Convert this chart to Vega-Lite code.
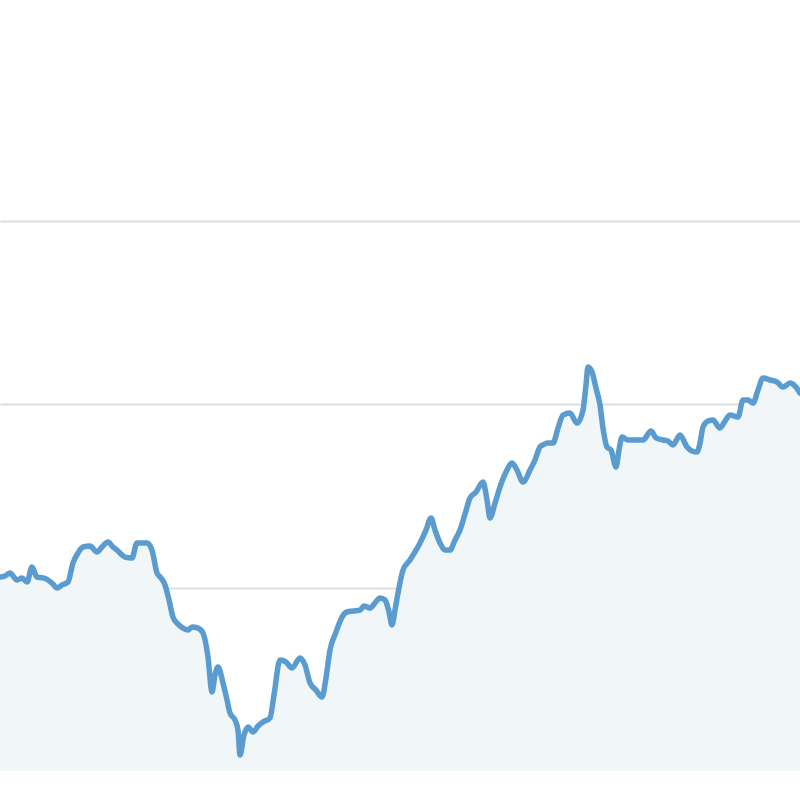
{
  "$schema": "https://vega.github.io/schema/vega-lite/v6.json",
  "width": 800,
  "height": 771,
  "autosize": {"type": "none"},
  "padding": {"top": 0, "left": 0, "right": 0, "bottom": 29},
  "background": "white",
  "config": {"view": {"stroke": null}},
  "data": {"values": [
    {"t":0,"v":105.7},{"t":5,"v":106.3},{"t":10,"v":107.9},{"t":17,"v":104.1},{"t":22,"v":105.2},{"t":27,"v":103.0},{"t":32,"v":111.2},{"t":37,"v":105.7},{"t":43,"v":105.2},{"t":48,"v":104.1},{"t":53,"v":101.9},{"t":57,"v":99.7},{"t":62,"v":101.4},{"t":68,"v":103.0},{"t":73,"v":113.4},{"t":78,"v":118.8},{"t":83,"v":122.1},{"t":90,"v":122.6},{"t":97,"v":119.4},{"t":102,"v":122.1},{"t":108,"v":124.8},{"t":113,"v":122.1},{"t":117,"v":120.4},{"t":125,"v":116.6},{"t":132,"v":116.1},{"t":137,"v":124.3},{"t":147,"v":124.3},{"t":152,"v":120.4},{"t":157,"v":107.9},{"t":161,"v":105.2},{"t":165,"v":101.4},{"t":169,"v":93.2},{"t":173,"v":83.9},{"t":178,"v":80.1},{"t":183,"v":77.9},{"t":188,"v":76.8},{"t":192,"v":78.5},{"t":198,"v":77.9},{"t":203,"v":75.2},{"t":208,"v":62.1},{"t":212,"v":43.1},{"t":215,"v":52.3},{"t":218,"v":56.7},{"t":223,"v":48.0},{"t":227,"v":38.7},{"t":230,"v":31.6},{"t":235,"v":27.8},{"t":238,"v":22.3},{"t":240,"v":8.7},{"t":244,"v":19.6},{"t":248,"v":24.0},{"t":253,"v":21.3},{"t":258,"v":24.5},{"t":263,"v":26.7},{"t":270,"v":28.9},{"t":274,"v":41.4},{"t":280,"v":60.5},{"t":286,"v":59.4},{"t":292,"v":56.1},{"t":300,"v":61.6},{"t":305,"v":57.8},{"t":310,"v":48.0},{"t":316,"v":44.1},{"t":322,"v":40.3},{"t":326,"v":50.7},{"t":330,"v":65.9},{"t":336,"v":75.7},{"t":342,"v":83.9},{"t":347,"v":86.7},{"t":353,"v":87.2},{"t":360,"v":87.7},{"t":364,"v":89.9},{"t":367,"v":89.4},{"t":370,"v":88.8},{"t":375,"v":91.6},{"t":380,"v":94.3},{"t":385,"v":93.2},{"t":389,"v":86.7},{"t":392,"v":79.6},{"t":395,"v":87.7},{"t":398,"v":97.0},{"t":403,"v":109.5},{"t":410,"v":115.0},{"t":415,"v":119.4},{"t":420,"v":124.3},{"t":426,"v":131.3},{"t":431,"v":137.9},{"t":435,"v":131.3},{"t":440,"v":124.3},{"t":445,"v":120.4},{"t":450,"v":120.4},{"t":455,"v":125.9},{"t":460,"v":131.3},{"t":465,"v":140.0},{"t":470,"v":148.8},{"t":476,"v":152.0},{"t":483,"v":157.5},{"t":487,"v":147.7},{"t":490,"v":137.9},{"t":495,"v":146.0},{"t":500,"v":154.8},{"t":506,"v":162.9},{"t":512,"v":167.8},{"t":517,"v":164.0},{"t":523,"v":157.5},{"t":530,"v":164.0},{"t":535,"v":169.5},{"t":540,"v":176.6},{"t":543,"v":177.7},{"t":548,"v":178.7},{"t":553,"v":178.7},{"t":558,"v":186.9},{"t":563,"v":194.0},{"t":570,"v":195.1},{"t":577,"v":189.6},{"t":583,"v":196.7},{"t":586,"v":210.4},{"t":588,"v":220.2},{"t":592,"v":217.4},{"t":596,"v":208.7},{"t":600,"v":199.5},{"t":603,"v":186.9},{"t":607,"v":176.6},{"t":611,"v":174.9},{"t":616,"v":165.7},{"t":619,"v":174.9},{"t":622,"v":182.0},{"t":628,"v":180.4},{"t":635,"v":180.4},{"t":643,"v":180.4},{"t":651,"v":185.3},{"t":656,"v":181.5},{"t":663,"v":180.4},{"t":668,"v":179.8},{"t":673,"v":177.7},{"t":680,"v":183.1},{"t":687,"v":176.6},{"t":692,"v":174.4},{"t":697,"v":173.8},{"t":700,"v":178.7},{"t":703,"v":187.5},{"t":708,"v":190.7},{"t":713,"v":191.3},{"t":720,"v":186.9},{"t":725,"v":190.7},{"t":730,"v":194.0},{"t":738,"v":192.9},{"t":743,"v":202.2},{"t":748,"v":202.2},{"t":753,"v":200.5},{"t":758,"v":207.6},{"t":763,"v":214.2},{"t":770,"v":213.1},{"t":777,"v":212.0},{"t":783,"v":209.3},{"t":790,"v":211.4},{"t":795,"v":209.8},{"t":800,"v":206.0}
  ]},
  "encoding": {
    "x": {"field": "t", "type": "quantitative", "scale": {"domain": [0, 800], "nice": false, "zero": false}, "axis": null},
    "y": {"field": "v", "type": "quantitative", "scale": {"domain": [0, 420.2], "nice": false},
      "axis": {"values": [100, 200, 300], "grid": true, "gridColor": "#dedede", "gridWidth": 2, "domain": false, "ticks": false, "labels": false, "title": null}}
  },
  "layer": [
    {"mark": {"type": "area", "color": "#f1f6f9", "interpolate": "monotone"}},
    {"mark": {"type": "line", "color": "#5a9bd0", "strokeWidth": 5.5, "interpolate": "monotone", "strokeJoin": "round", "strokeCap": "round"}}
  ]
}
